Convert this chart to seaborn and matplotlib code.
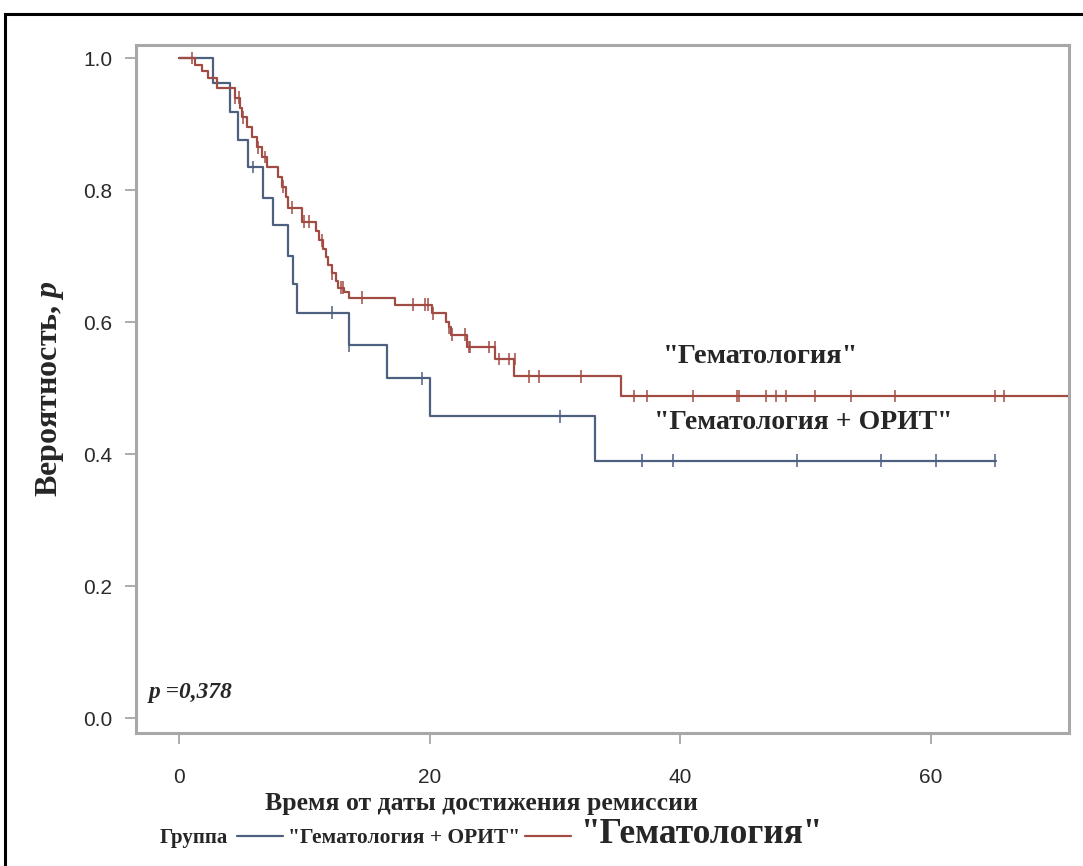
import numpy as np
import pandas as pd
import matplotlib
matplotlib.use("Agg")
import matplotlib.pyplot as plt
import seaborn as sns
from matplotlib.lines import Line2D
from matplotlib.patches import Rectangle

# ---- data ----
groups = ['"Гематология + ОРИТ"', '"Гематология"']

blue_t = [0.0, 2.7, 4.1, 4.7, 5.5, 6.7, 7.5, 8.7, 9.1, 9.4, 13.6, 16.6, 20.0, 33.2, 65.2]
blue_s = [1.0, 0.962, 0.918, 0.876, 0.835, 0.788, 0.747, 0.700, 0.657, 0.614, 0.565, 0.515, 0.457, 0.390, 0.390]
blue_cens_t = [5.9, 12.2, 13.6, 19.4, 30.4, 36.9, 39.4, 49.3, 56.0, 60.4, 65.1]
blue_cens_s = [0.835, 0.614, 0.565, 0.515, 0.457, 0.390, 0.390, 0.390, 0.390, 0.390, 0.390]

red_t = [0.0, 1.3, 1.8, 2.3, 3.0, 4.5, 4.9, 5.0, 5.4, 5.8, 6.2, 6.6, 7.0, 7.9, 8.2, 8.5, 8.7,
         9.8, 10.9, 11.2, 11.5, 11.7, 11.9, 12.2, 12.5, 12.7, 13.2, 13.6, 17.2, 20.2, 21.3,
         21.5, 21.7, 23.0, 25.2, 26.7, 35.3, 72.0]
red_s = [1.0, 0.990, 0.980, 0.970, 0.955, 0.940, 0.925, 0.910, 0.895, 0.880, 0.865, 0.850, 0.835,
         0.820, 0.805, 0.790, 0.773, 0.752, 0.738, 0.724, 0.710, 0.698, 0.686, 0.674, 0.662,
         0.652, 0.645, 0.637, 0.626, 0.613, 0.600, 0.592, 0.581, 0.562, 0.544, 0.518, 0.488, 0.488]
red_cens_t = [1.0, 4.5, 4.8, 5.1, 6.3, 6.9, 8.3, 9.0, 10.0, 10.4, 11.4, 12.2, 12.9, 13.1, 14.6,
              18.7, 19.6, 19.9, 20.3, 21.5, 21.8, 22.8, 23.1, 23.2, 24.7, 25.2, 25.5, 26.3, 26.8,
              27.9, 28.7, 32.1, 36.3, 37.3, 41.0, 44.5, 44.7, 46.8, 47.6, 48.4, 50.7, 53.6, 57.1,
              65.1, 65.8]
red_cens_s = [1.0, 0.940, 0.940, 0.910, 0.865, 0.850, 0.805, 0.773, 0.752, 0.752, 0.724, 0.674,
              0.652, 0.652, 0.637, 0.626, 0.626, 0.626, 0.613, 0.592, 0.581, 0.581, 0.562, 0.562,
              0.562, 0.562, 0.544, 0.544, 0.544, 0.518, 0.518, 0.518] + [0.488] * 13

xticks = [0, 20, 40, 60]
yticks = [0.0, 0.2, 0.4, 0.6, 0.8, 1.0]
p_text = "p =0,378"

colors = {groups[0]: "#4d6080", groups[1]: "#a04c42"}

steps = pd.concat([
    pd.DataFrame({"t": blue_t, "s": blue_s, "g": groups[0]}),
    pd.DataFrame({"t": red_t, "s": red_s, "g": groups[1]}),
], ignore_index=True)
cens = pd.concat([
    pd.DataFrame({"t": blue_cens_t, "s": blue_cens_s, "g": groups[0]}),
    pd.DataFrame({"t": red_cens_t, "s": red_cens_s, "g": groups[1]}),
], ignore_index=True)

sns.set_theme(style="white")
plt.rcParams["font.family"] = ["Liberation Sans", "DejaVu Sans"]
plt.rcParams["mathtext.fontset"] = "custom"
plt.rcParams["mathtext.it"] = "Liberation Serif:italic:bold"
plt.rcParams["mathtext.rm"] = "Liberation Serif:bold"

W, H = 1083, 866
fig = plt.figure(figsize=(10.83, 8.66), dpi=100)
ax = fig.add_axes([136 / W, 1 - 733 / H, (1069 - 136) / W, (733 - 45) / H])

sns.lineplot(data=steps, x="t", y="s", hue="g", palette=colors, drawstyle="steps-post",
             estimator=None, sort=False, lw=1.6, legend=False, ax=ax)
sns.scatterplot(data=cens, x="t", y="s", hue="g", palette=colors, marker="|", s=85,
                linewidth=1.1, legend=False, ax=ax, zorder=3)

ax.set_xlim(-3.43, 71.0)
ax.set_ylim(-0.0227, 1.0197)
ax.set_xticks(xticks)
ax.set_yticks(yticks)
ax.set_xticklabels([str(v) for v in xticks])
ax.set_yticklabels([f"{v:.1f}" for v in yticks])
ax.tick_params(axis="both", which="both", direction="out", length=8, width=1.2,
               color="#a0a0a0", labelsize=15, labelcolor="#2a2a2a", pad=9)
ax.tick_params(axis="x", pad=17)
ax.tick_params(left=True, bottom=True)
for sp in ax.spines.values():
    sp.set_color("#a8a8a8")
    sp.set_linewidth(2.2)

serif = ["Liberation Serif", "DejaVu Serif"]
ax.set_xlabel("Время от даты достижения ремиссии", family=serif, weight="bold", fontsize=18.5)
ax.xaxis.label.set_va("baseline")
ax.xaxis.set_label_coords((481 - 136) / (1069 - 136), (733 - 810) / (733 - 45))
ax.set_ylabel("Вероятность, $p$", family=serif, weight="bold", fontsize=23, labelpad=12)

ax.text(-2.4, 0.038, p_text, family=serif, weight="bold", style="italic", fontsize=16.8,
        va="center", ha="left")
ax.text(46.4, 0.548, groups[1], family=serif, weight="bold", fontsize=20.5, ha="center", va="center")
ax.text(49.8, 0.447, groups[0], family=serif, weight="bold", fontsize=20, ha="center", va="center")

# bottom legend
base = 1 - 843 / H
liney = 1 - 836 / H
fig.text(160 / W, base, "Группа", family=serif, weight="bold", fontsize=15, va="baseline")
fig.add_artist(Line2D([237 / W, 283 / W], [liney, liney], color=colors[groups[0]],
                      lw=1.6, transform=fig.transFigure))
fig.text(288 / W, base, groups[0], family=serif, weight="bold", fontsize=15.5, va="baseline")
fig.add_artist(Line2D([525 / W, 571 / W], [liney, liney], color=colors[groups[1]],
                      lw=1.6, transform=fig.transFigure))
fig.text(580 / W, base, groups[1], family=serif, weight="bold", fontsize=25.5, va="baseline")

# outer frame
fig.add_artist(Rectangle((5 / W, -0.05), 1.2, 1 - 14 / H + 0.05, fill=False,
                         edgecolor="black", lw=2.2, transform=fig.transFigure))

fig.savefig("out.png", dpi=100)
